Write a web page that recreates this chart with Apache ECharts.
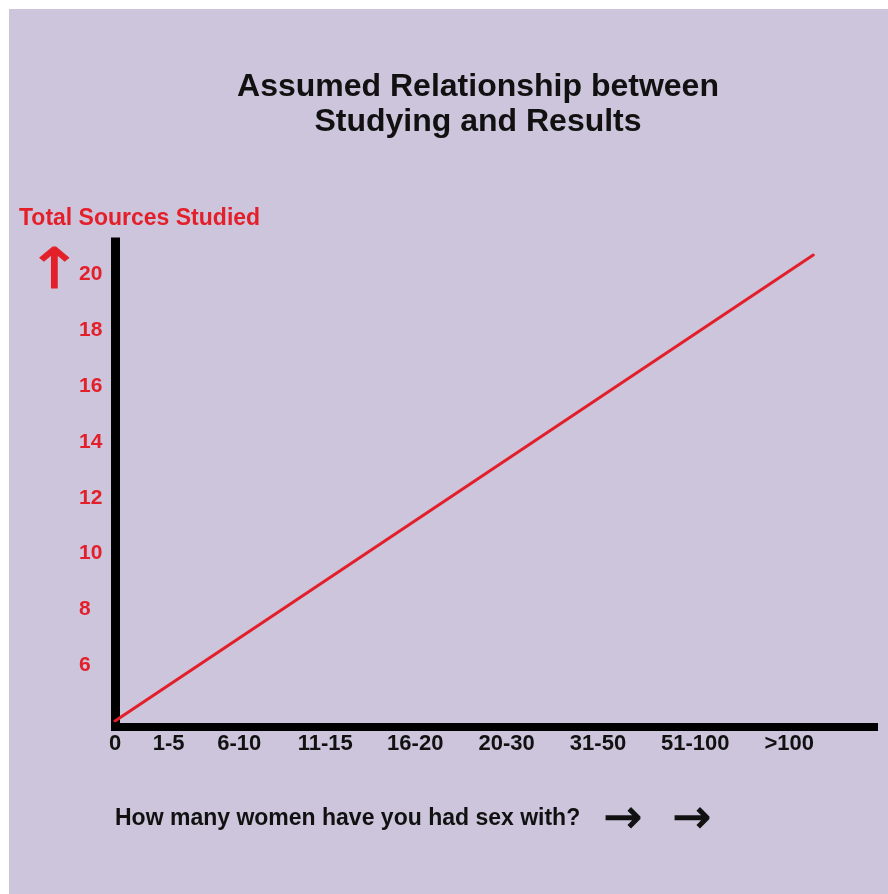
<!DOCTYPE html>
<html>
<head>
<meta charset="utf-8">
<script src="https://cdn.jsdelivr.net/npm/echarts@6/dist/echarts.min.js"></script>
<style>
html,body{margin:0;padding:0;background:#fff;}
#chart{width:888px;height:894px;}
</style>
</head>
<body>
<div id="chart"></div>
<script>
// Data
var categoryLabels = ['0', '1-5', '6-10', '11-15', '16-20', '20-30', '31-50', '51-100', '>100'];
var categoryPositions = [0, 0.769, 1.780, 3.012, 4.300, 5.609, 6.917, 8.310, 9.656];
var lineX = [0, 10];
var lineY = [4, 20.7];
var yTicks = [6, 8, 10, 12, 14, 16, 18, 20];

var FONT = 'Liberation Sans, Arial, sans-serif';
var ARROW_FONT = 'DejaVu Sans, sans-serif';
var RED = '#e3202a';
var INK = '#111111';

var chart = echarts.init(document.getElementById('chart'), null, {renderer: 'canvas'});
var seriesData = lineX.map(function (x, i) { return [x, lineY[i]]; });

chart.setOption({
  backgroundColor: '#ffffff',
  animation: false,
  title: {
    text: 'Assumed Relationship between\nStudying and Results',
    left: 478,
    top: 70,
    padding: 0,
    textAlign: 'center',
    textStyle: {fontFamily: FONT, fontSize: 32, fontWeight: 'bold', color: INK, lineHeight: 35}
  },
  grid: {left: 115, right: 14, top: 242, bottom: 173, containLabel: false},
  xAxis: {
    type: 'value',
    min: 0,
    max: 10.87,
    offset: 6,
    splitLine: {show: false},
    axisTick: {show: false},
    axisLine: {show: true, onZero: false, lineStyle: {color: '#000', width: 8, cap: 'square'}},
    axisLabel: {
      customValues: categoryPositions,
      formatter: function (v) {
        var idx = -1, best = 1e9;
        for (var i = 0; i < categoryPositions.length; i++) {
          var d = Math.abs(categoryPositions[i] - v);
          if (d < best) { best = d; idx = i; }
        }
        return categoryLabels[idx];
      },
      margin: 6,
      fontFamily: FONT, fontSize: 22, fontWeight: 'bold', color: INK
    }
  },
  yAxis: {
    type: 'value',
    min: 4,
    max: 21.17,
    splitLine: {show: false},
    axisTick: {show: false},
    axisLine: {show: true, onZero: false, lineStyle: {color: '#000', width: 9, cap: 'square'}},
    axisLabel: {
      customValues: yTicks,
      align: 'left',
      margin: 36,
      fontFamily: FONT, fontSize: 21, fontWeight: 'bold', color: RED
    }
  },
  graphic: [
    {type: 'rect', left: 9, top: 9, z: -100, silent: true,
     shape: {width: 879, height: 885}, style: {fill: '#ccc5dc'}},
    {type: 'text', left: 19, top: 207, silent: true,
     style: {text: 'Total Sources Studied', fill: RED, font: 'bold 23px ' + FONT}},
    {type: 'text', x: 54.5, y: 273, scaleX: 1.2, silent: true,
     style: {text: '\u2191', fill: RED, stroke: RED, lineWidth: 1,
             font: '56px ' + ARROW_FONT, align: 'center', verticalAlign: 'middle'}},
    {type: 'text', left: 115, top: 807, silent: true,
     style: {text: 'How many women have you had sex with?', fill: INK, font: 'bold 23px ' + FONT}},
    {type: 'text', x: 623, y: 820, silent: true,
     style: {text: '\u2192', fill: INK, stroke: INK, lineWidth: 1.2,
             font: '46px ' + ARROW_FONT, align: 'center', verticalAlign: 'middle'}},
    {type: 'text', x: 692, y: 820, silent: true,
     style: {text: '\u2192', fill: INK, stroke: INK, lineWidth: 1.2,
             font: '46px ' + ARROW_FONT, align: 'center', verticalAlign: 'middle'}}
  ],
  series: [{
    type: 'line',
    data: seriesData,
    symbol: 'none',
    lineStyle: {color: RED, width: 3, cap: 'round'},
    z: 1
  }]
});
</script>
</body>
</html>
